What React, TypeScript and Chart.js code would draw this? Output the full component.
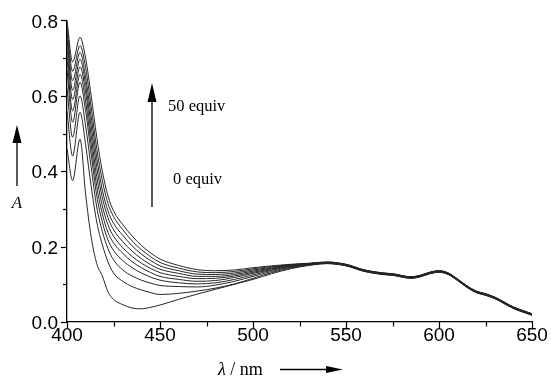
import React, { useEffect, useRef } from "react";
import { Chart, registerables } from "chart.js";

Chart.register(...registerables);

// Wavelengths (nm)
const wavelengths = [
  400, 403, 407, 410, 413, 416, 419, 422, 425, 430, 435, 440, 445, 450, 460, 470, 480, 490, 500, 510, 520, 530,
  540, 550, 560, 570, 575, 585, 590, 595, 600, 605, 610, 615, 620, 625, 630, 640, 650,
];

// Absorbance spectra, 0 equiv (first) to 50 equiv (last)
const eq0 = [
  0.460, 0.375, 0.485, 0.340, 0.225, 0.155, 0.122, 0.080, 0.060, 0.046, 0.037, 0.035, 0.039, 0.045, 0.060, 0.074, 0.087, 0.100, 0.113, 0.128, 0.141, 0.150,
  0.155, 0.149, 0.134, 0.126, 0.124, 0.116, 0.120, 0.128, 0.132, 0.126, 0.110, 0.092, 0.078, 0.071, 0.062, 0.036, 0.018,
];
const eq1 = [
  0.560, 0.440, 0.556, 0.470, 0.360, 0.265, 0.205, 0.160, 0.130, 0.108, 0.094, 0.085, 0.078, 0.073, 0.076, 0.082, 0.090, 0.101, 0.116, 0.131, 0.143, 0.151,
  0.155, 0.149, 0.134, 0.126, 0.124, 0.116, 0.120, 0.128, 0.132, 0.126, 0.110, 0.092, 0.078, 0.071, 0.062, 0.036, 0.018,
];
const eq2 = [
  0.620, 0.490, 0.600, 0.520, 0.410, 0.305, 0.240, 0.195, 0.165, 0.138, 0.122, 0.111, 0.103, 0.097, 0.094, 0.093, 0.098, 0.108, 0.121, 0.134, 0.145, 0.152,
  0.156, 0.150, 0.135, 0.127, 0.125, 0.117, 0.121, 0.129, 0.133, 0.127, 0.111, 0.093, 0.079, 0.072, 0.063, 0.037, 0.019,
];
const eq3 = [
  0.670, 0.530, 0.636, 0.560, 0.445, 0.335, 0.265, 0.218, 0.190, 0.163, 0.144, 0.130, 0.119, 0.111, 0.104, 0.101, 0.104, 0.113, 0.125, 0.137, 0.147, 0.153,
  0.156, 0.150, 0.135, 0.127, 0.125, 0.117, 0.121, 0.129, 0.133, 0.127, 0.111, 0.093, 0.079, 0.072, 0.063, 0.037, 0.019,
];
const eq4 = [
  0.700, 0.560, 0.657, 0.585, 0.470, 0.360, 0.287, 0.238, 0.210, 0.182, 0.160, 0.144, 0.131, 0.121, 0.113, 0.108, 0.110, 0.118, 0.129, 0.139, 0.148, 0.153,
  0.157, 0.151, 0.136, 0.128, 0.126, 0.118, 0.122, 0.130, 0.134, 0.128, 0.112, 0.094, 0.080, 0.073, 0.064, 0.038, 0.020,
];
const eq5 = [
  0.725, 0.590, 0.677, 0.610, 0.495, 0.385, 0.308, 0.258, 0.228, 0.197, 0.174, 0.156, 0.142, 0.131, 0.121, 0.115, 0.116, 0.122, 0.132, 0.141, 0.149, 0.154,
  0.157, 0.151, 0.136, 0.128, 0.126, 0.118, 0.122, 0.130, 0.134, 0.128, 0.112, 0.094, 0.080, 0.073, 0.064, 0.038, 0.020,
];
const eq6 = [
  0.750, 0.615, 0.697, 0.630, 0.520, 0.410, 0.330, 0.277, 0.245, 0.213, 0.188, 0.168, 0.152, 0.140, 0.129, 0.121, 0.121, 0.126, 0.135, 0.143, 0.150, 0.154,
  0.158, 0.152, 0.137, 0.129, 0.127, 0.119, 0.123, 0.131, 0.135, 0.129, 0.113, 0.095, 0.081, 0.074, 0.065, 0.039, 0.021,
];
const eq7 = [
  0.770, 0.640, 0.715, 0.650, 0.545, 0.435, 0.350, 0.295, 0.262, 0.230, 0.202, 0.180, 0.163, 0.149, 0.136, 0.127, 0.126, 0.130, 0.138, 0.145, 0.151, 0.155,
  0.158, 0.152, 0.137, 0.129, 0.127, 0.119, 0.123, 0.131, 0.135, 0.129, 0.113, 0.095, 0.081, 0.074, 0.065, 0.039, 0.021,
];
const eq8 = [
  0.785, 0.665, 0.733, 0.675, 0.570, 0.460, 0.375, 0.315, 0.280, 0.245, 0.215, 0.192, 0.173, 0.158, 0.143, 0.133, 0.131, 0.134, 0.141, 0.147, 0.152, 0.155,
  0.159, 0.153, 0.138, 0.130, 0.128, 0.120, 0.124, 0.132, 0.136, 0.130, 0.114, 0.096, 0.082, 0.075, 0.066, 0.040, 0.022,
];
const eq9 = [
  0.800, 0.690, 0.755, 0.700, 0.600, 0.490, 0.400, 0.335, 0.295, 0.258, 0.228, 0.203, 0.183, 0.167, 0.150, 0.139, 0.136, 0.138, 0.144, 0.149, 0.153, 0.156,
  0.159, 0.153, 0.138, 0.130, 0.128, 0.120, 0.124, 0.132, 0.136, 0.130, 0.114, 0.096, 0.082, 0.075, 0.066, 0.040, 0.022,
];

const spectra = [eq0, eq1, eq2, eq3, eq4, eq5, eq6, eq7, eq8, eq9];

// Axis ticks
const xMajorTicks = [400, 450, 500, 550, 600, 650];
const yMajorTicks = [0, 0.2, 0.4, 0.6, 0.8];

const SERIF = '"Liberation Serif", "Times New Roman", serif';
const SANS = '"Liberation Sans", Arial, sans-serif';

function isXMajor(v: number) {
  return xMajorTicks.some((t) => Math.abs(t - v) < 1e-6);
}
function isYMajor(v: number) {
  return yMajorTicks.some((t) => Math.abs(t - v) < 1e-6);
}

function arrowUp(ctx: CanvasRenderingContext2D, x: number, yBottom: number, yTip: number, headLen: number, halfW: number) {
  ctx.beginPath();
  ctx.moveTo(x, yBottom);
  ctx.lineTo(x, yTip + headLen - 1);
  ctx.stroke();
  ctx.beginPath();
  ctx.moveTo(x, yTip);
  ctx.lineTo(x - halfW, yTip + headLen);
  ctx.lineTo(x + halfW, yTip + headLen);
  ctx.closePath();
  ctx.fill();
}

function arrowRight(ctx: CanvasRenderingContext2D, xStart: number, xTip: number, y: number, headLen: number, halfH: number) {
  ctx.beginPath();
  ctx.moveTo(xStart, y);
  ctx.lineTo(xTip - headLen + 1, y);
  ctx.stroke();
  ctx.beginPath();
  ctx.moveTo(xTip, y);
  ctx.lineTo(xTip - headLen, y - halfH);
  ctx.lineTo(xTip - headLen, y + halfH);
  ctx.closePath();
  ctx.fill();
}

const decorPlugin = {
  id: "decor",
  afterDraw(chart: any) {
    const ctx: CanvasRenderingContext2D = chart.ctx;
    const xs = chart.scales.x;
    const ys = chart.scales.y;
    ctx.save();
    ctx.strokeStyle = "#000";
    ctx.fillStyle = "#000";
    ctx.lineWidth = 1.2;
    // tick marks
    xs.ticks.forEach((t: any) => {
      const px = Math.round(xs.getPixelForValue(t.value)) + 0.5;
      const len = isXMajor(t.value) ? 7 : 4.5;
      ctx.beginPath();
      ctx.moveTo(px, xs.top);
      ctx.lineTo(px, xs.top + len);
      ctx.stroke();
    });
    ys.ticks.forEach((t: any) => {
      const py = Math.round(ys.getPixelForValue(t.value)) + 0.5;
      const len = isYMajor(t.value) ? 6 : 4;
      ctx.beginPath();
      ctx.moveTo(ys.right, py);
      ctx.lineTo(ys.right - len, py);
      ctx.stroke();
    });

    // y-axis title with arrow
    ctx.lineWidth = 1.3;
    arrowUp(ctx, 17, 186, 125, 18, 4.5);
    ctx.font = `italic 17px ${SERIF}`;
    ctx.textAlign = "center";
    ctx.textBaseline = "middle";
    ctx.fillText("A", 17, 204);

    // titration arrow and labels
    arrowUp(ctx, 152, 207, 83, 19, 4.5);
    ctx.font = `16.5px ${SERIF}`;
    ctx.textAlign = "left";
    ctx.fillText("50 equiv", 168, 107);
    ctx.fillText("0 equiv", 173, 180);

    // x-axis title with arrow
    ctx.font = `italic 18px ${SERIF}`;
    ctx.textBaseline = "alphabetic";
    ctx.fillText("λ", 218, 375);
    const lw = ctx.measureText("λ").width;
    ctx.font = `18px ${SERIF}`;
    ctx.fillText(" / nm", 218 + lw, 375);
    arrowRight(ctx, 280, 343, 369.5, 17, 3.5);
    ctx.restore();
  },
};

export default function App() {
  const canvasRef = useRef<HTMLCanvasElement | null>(null);

  useEffect(() => {
    document.body.style.margin = "0";
    const canvas = canvasRef.current;
    if (!canvas) return;
    const datasets = spectra.map((s, i) => ({
      label: `curve ${i}`,
      data: wavelengths.map((w, j) => ({ x: w, y: s[j] })),
      borderColor: "#262626",
      borderWidth: 1,
      pointRadius: 0,
      fill: false,
      cubicInterpolationMode: "monotone" as const,
    }));
    const chart = new Chart(canvas, {
      type: "line",
      data: { datasets },
      options: {
        animation: false,
        responsive: false,
        layout: { padding: { left: 0, top: 20, right: 19, bottom: 0 } },
        plugins: { legend: { display: false }, tooltip: { enabled: false } },
        scales: {
          x: {
            type: "linear",
            min: 400,
            max: 650,
            grid: { display: false, drawTicks: false },
            border: { display: true, color: "#000", width: 1.3 },
            afterFit: (scale: any) => {
              scale.height = 54;
            },
            ticks: {
              stepSize: 25,
              autoSkip: false,
              maxRotation: 0,
              padding: 2,
              color: "#000",
              font: { family: SANS, size: 19 },
              callback: (v: any) => (isXMajor(Number(v)) ? String(v) : ""),
            },
          },
          y: {
            min: 0,
            max: 0.8,
            grid: { display: false, drawTicks: false },
            border: { display: true, color: "#000", width: 1.3 },
            afterFit: (scale: any) => {
              scale.width = 67;
            },
            ticks: {
              stepSize: 0.1,
              autoSkip: false,
              padding: 9,
              labelOffset: 2,
              color: "#000",
              font: { family: SANS, size: 19 },
              callback: (v: any) => (isYMajor(Number(v)) ? Number(v).toFixed(1) : ""),
            },
          },
        },
      },
      plugins: [decorPlugin],
    });
    return () => chart.destroy();
  }, []);

  return (
    <div style={{ position: "absolute", left: 0, top: 0, width: 551, height: 376, background: "#fff" }}>
      <canvas ref={canvasRef} width={551} height={376} style={{ display: "block" }} />
    </div>
  );
}
